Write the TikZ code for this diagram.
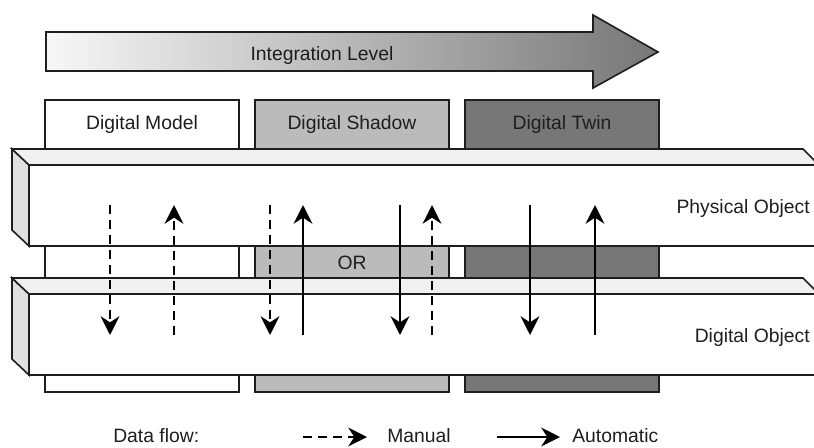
\documentclass[tikz,border=0pt]{standalone}
\usepackage{fontspec}
\setmainfont{Liberation Sans}
\usetikzlibrary{arrows.meta}

\definecolor{ink}{HTML}{1E1E1E}
\definecolor{shadowgray}{HTML}{BBBBBB}
\definecolor{twingray}{HTML}{777777}
\definecolor{topface}{HTML}{F0F0F0}
\definecolor{sideface}{HTML}{E0E0E0}

\tikzset{
  outline/.style={draw=ink, line width=1.2pt},
  flowtip/.style={-{Stealth[length=14pt,width=14pt,inset=4.5pt]}},
  manualflow/.style={flowtip, draw=black, line width=2pt, dash pattern=on 6.75pt off 4.5pt},
  autoflow/.style={flowtip, draw=black, line width=2pt},
  lbl/.style={font=\fontsize{14.5}{17}\selectfont, text=ink, inner sep=0pt},
}

\begin{document}
\begin{tikzpicture}[x=0.75pt, y=-0.75pt]
\useasboundingbox (0,0) rectangle (814,447);

% integration level arrow with a light-to-dark gradient
\path[outline, left color=white!97!black, right color=twingray]
  (46,32) -- (593,32) -- (593,15) -- (658,52) -- (593,88) -- (593,71) -- (46,71) -- cycle;
\node[lbl, anchor=base] (intlevel) at (322,60) {Integration Level};

% the three integration stages, running behind both object layers
\path[outline, fill=white]      (45,100)  rectangle (239,392);
\path[outline, fill=shadowgray] (255,100) rectangle (449,392);
\path[outline, fill=twingray]   (465,100) rectangle (659,392);
\node[lbl, anchor=base] (dm) at (142,129) {Digital Model};
\node[lbl, anchor=base] (ds) at (352,129) {Digital Shadow};
\node[lbl, anchor=base] (dt) at (562,129) {Digital Twin};

% two layered slabs: physical object above, digital object below
\begin{scope}
\clip (0,0) rectangle (814,447);
\foreach \top/\bot in {149/246, 278/375} {
  \path[outline, fill=sideface] (12,\top) -- (29,\top+16) -- (29,\bot) -- (12,\bot-16) -- cycle;
  \path[outline, fill=topface] (12,\top) -- (803,\top) -- (819,\top+16) -- (29,\top+16) -- cycle;
  \path[outline, fill=white] (29,\top+16) rectangle (830,\bot);
}
\end{scope}

\node[lbl, anchor=base] (or) at (352,269) {OR};
\node[lbl, anchor=base east] (po) at (810,213) {Physical Object};
\node[lbl, anchor=base east] (do) at (810,342) {Digital Object};

% flow end points on the physical (p) and digital (d) layers
\foreach \name/\x in {a/110, b/174, c/270, e/303, f/400, g/432, h/530, k/595} {
  \coordinate (\name p) at (\x,205);
  \coordinate (\name d) at (\x,335);
}

% digital model: manual both ways
\draw[manualflow] (ap) -- (ad);
\draw[manualflow] (bd) -- (bp);
% digital shadow: manual or automatic
\draw[manualflow] (cp) -- (cd);
\draw[autoflow]   (ed) -- (ep);
\draw[autoflow]   (fp) -- (fd);
\draw[manualflow] (gd) -- (gp);
% digital twin: automatic both ways
\draw[autoflow]   (hp) -- (hd);
\draw[autoflow]   (kd) -- (kp);

% legend
\node[lbl, anchor=base west] (legtitle) at (113,442) {Data flow:};
\coordinate (lm1) at (303,437);
\coordinate (lm2) at (367,437);
\coordinate (la1) at (497,437);
\coordinate (la2) at (560,437);
\draw[manualflow] (lm1) -- (lm2);
\node[lbl, anchor=base west] (legmanual) at (387,442) {Manual};
\draw[autoflow] (la1) -- (la2);
\node[lbl, anchor=base west] (legauto) at (572,442) {Automatic};
\end{tikzpicture}
\end{document}
